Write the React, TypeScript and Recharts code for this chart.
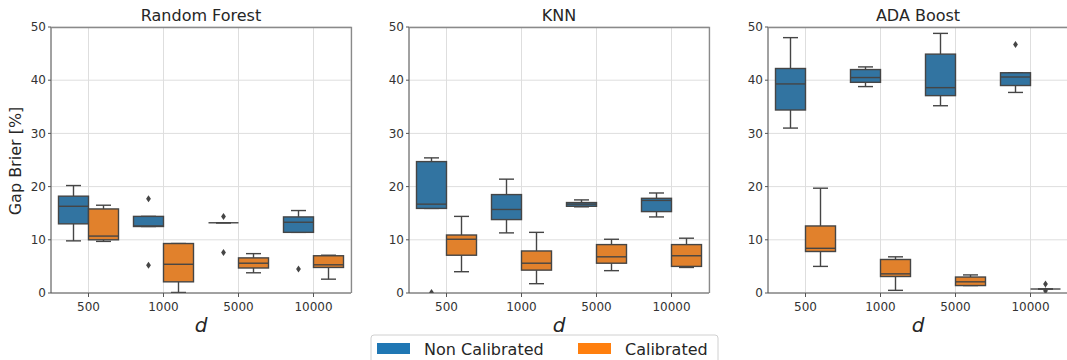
import React from 'react';
import { BarChart, Bar, XAxis, YAxis, CartesianGrid } from 'recharts';

// ---------- data ----------
const categories = ['500', '1000', '5000', '10000'];
const yTicks = [0, 10, 20, 30, 40, 50];
const seriesNames = ['Non Calibrated', 'Calibrated'];
const panelTitles = ['Random Forest', 'KNN', 'ADA Boost'];

// box stats per category: [lower whisker, Q1, median, Q3, upper whisker]
const rfNonCal = [
  [9.8, 13.0, 16.3, 18.2, 20.2],
  [12.5, 12.5, 12.6, 14.4, 14.4],
  [13.2, 13.2, 13.2, 13.2, 13.2],
  [11.4, 11.4, 13.3, 14.3, 15.5],
];
const rfNonCalOut = [[], [17.7, 5.2], [14.4, 7.6], [4.5]];
const rfCal = [
  [9.7, 10.0, 10.7, 15.8, 16.5],
  [0.1, 2.1, 5.4, 9.3, 9.3],
  [3.8, 4.7, 5.6, 6.6, 7.4],
  [2.6, 4.8, 5.3, 7.0, 7.1],
];
const rfCalOut = [[], [], [], []];

const knnNonCal = [
  [15.9, 15.9, 16.7, 24.7, 25.4],
  [11.3, 13.8, 15.7, 18.5, 21.4],
  [16.2, 16.3, 16.7, 17.0, 17.5],
  [14.3, 15.3, 17.4, 17.8, 18.8],
];
const knnNonCalOut = [[0.1], [], [], []];
const knnCal = [
  [4.0, 7.1, 10.1, 10.9, 14.4],
  [1.75, 4.3, 5.6, 7.9, 11.4],
  [4.2, 5.6, 6.8, 9.1, 10.1],
  [4.8, 5.0, 7.0, 9.1, 10.3],
];
const knnCalOut = [[], [], [], []];

const adaNonCal = [
  [31.0, 34.4, 39.3, 42.2, 48.0],
  [38.8, 39.6, 40.5, 42.0, 42.5],
  [35.2, 37.1, 38.6, 44.9, 48.8],
  [37.7, 39.0, 40.6, 41.4, 41.4],
];
const adaNonCalOut = [[], [], [], [46.7]];
const adaCal = [
  [5.0, 7.8, 8.4, 12.6, 19.7],
  [0.5, 3.1, 3.6, 6.3, 6.8],
  [1.4, 1.4, 2.1, 3.0, 3.4],
  [0.75, 0.75, 0.75, 0.75, 0.75],
];
const adaCalOut = [[], [], [], [1.7, 0.4]];

// ---------- styling ----------
const COLORS = { nc: '#3274a1', cal: '#e1812c' };
const LEGEND_COLORS = ['#1f77b4', '#ff7f0e'];
const LINE = '#454545';
const FONT = "'DejaVu Sans', sans-serif";

type Row = { cat: string; nc: number[]; ncOut: number[]; cal: number[]; calOut: number[] };

function buildData(nc: number[][], ncOut: number[][], cal: number[][], calOut: number[][]): Row[] {
  return categories.map((cat, i) => ({ cat, nc: nc[i], ncOut: ncOut[i], cal: cal[i], calOut: calOut[i] }));
}

const topOf = (stats: number[], outs: number[]) => Math.max(...stats, ...outs);

const BoxShape = (props: any) => {
  const { x, y, width, height, payload, seriesKey } = props;
  const stats: number[] = payload[seriesKey];
  const outs: number[] = payload[seriesKey + 'Out'];
  const top = topOf(stats, outs);
  // bar spans value 0 .. top, so map values linearly inside it (library scale)
  const py = (v: number) => y + (height * (top - v)) / top;
  const [lo, q1, med, q3, hi] = stats;
  const cx = x + width / 2;
  const cap = width / 4;
  return (
    <g>
      <line x1={cx} x2={cx} y1={py(hi)} y2={py(q3)} stroke={LINE} strokeWidth={1.4} />
      <line x1={cx} x2={cx} y1={py(q1)} y2={py(lo)} stroke={LINE} strokeWidth={1.4} />
      <line x1={cx - cap} x2={cx + cap} y1={py(hi)} y2={py(hi)} stroke={LINE} strokeWidth={1.4} />
      <line x1={cx - cap} x2={cx + cap} y1={py(lo)} y2={py(lo)} stroke={LINE} strokeWidth={1.4} />
      <rect
        x={x}
        y={py(q3)}
        width={width}
        height={Math.max(0, py(q1) - py(q3))}
        fill={COLORS[seriesKey as 'nc' | 'cal']}
        stroke={LINE}
        strokeWidth={1.4}
      />
      <line x1={x} x2={x + width} y1={py(med)} y2={py(med)} stroke={LINE} strokeWidth={1.4} />
      {outs.map((o, i) => {
        const oy = py(o);
        return (
          <path
            key={i}
            d={`M${cx},${oy - 3.5} L${cx + 2.4},${oy} L${cx},${oy + 3.5} L${cx - 2.4},${oy} Z`}
            fill={LINE}
          />
        );
      })}
    </g>
  );
};

type PanelProps = { data: Row[]; left: number; yAxisWidth: number; width: number };

function Panel({ data, left, yAxisWidth, width }: PanelProps) {
  const plotW = 300;
  return (
    <div style={{ position: 'absolute', left, top: 0 }}>
      <BarChart
        width={width}
        height={340}
        data={data}
        margin={{ top: 27, right: width - yAxisWidth - plotW, bottom: 17, left: 0 }}
        barCategoryGap="10%"
        barGap={0}
      >
        <CartesianGrid stroke="#dedede" strokeWidth={1} />
        <XAxis
          dataKey="cat"
          height={30}
          tickSize={4}
          tickMargin={5}
          stroke="#555"
          tick={{ fontSize: 12, fill: '#333' }}
          interval={0}
        />
        <YAxis
          domain={[0, 50]}
          ticks={yTicks}
          width={yAxisWidth}
          tickSize={3}
          tickMargin={2}
          stroke="#555"
          tick={{ fontSize: 12, fill: '#333' }}
          allowDataOverflow
        />
        <Bar
          name={seriesNames[0]}
          dataKey={(d: Row) => [0, topOf(d.nc, d.ncOut)]}
          fill={COLORS.nc}
          isAnimationActive={false}
          shape={(p: any) => <BoxShape {...p} seriesKey="nc" />}
        />
        <Bar
          name={seriesNames[1]}
          dataKey={(d: Row) => [0, topOf(d.cal, d.calOut)]}
          fill={COLORS.cal}
          isAnimationActive={false}
          shape={(p: any) => <BoxShape {...p} seriesKey="cal" />}
        />
      </BarChart>
    </div>
  );
}

const panels = [
  { data: buildData(rfNonCal, rfNonCalOut, rfCal, rfCalOut), left: 0, yAxisWidth: 51, width: 360, cx: 201 },
  { data: buildData(knnNonCal, knnNonCalOut, knnCal, knnCalOut), left: 355, yAxisWidth: 54, width: 360, cx: 559 },
  { data: buildData(adaNonCal, adaNonCalOut, adaCal, adaCalOut), left: 705, yAxisWidth: 63, width: 370, cx: 918 },
];

export default function App() {
  return (
    <div
      style={{
        position: 'absolute',
        left: 0,
        top: 0,
        width: 1067,
        height: 360,
        overflow: 'hidden',
        background: '#fff',
        fontFamily: FONT,
      }}
    >
      {panels.map((p, i) => (
        <Panel key={i} data={p.data} left={p.left} yAxisWidth={p.yAxisWidth} width={p.width} />
      ))}
      <svg
        width={1067}
        height={360}
        style={{ position: 'absolute', left: 0, top: 0, pointerEvents: 'none', fontFamily: FONT }}
      >
        {panels.map((p, i) => {
          const l = p.left + p.yAxisWidth;
          return (
            <g key={i}>
              <path d={`M${l},27.5 H${l + 300.5} V293`} fill="none" stroke="#8a8a8a" strokeWidth={1.3} />
              <text x={p.cx} y={21} textAnchor="middle" fontSize={16} fill="#262626">
                {panelTitles[i]}
              </text>
              <text x={p.cx} y={332} textAnchor="middle" fontSize={20} fontStyle="italic" fill="#262626">
                d
              </text>
            </g>
          );
        })}
        <text transform="translate(21,161) rotate(-90)" textAnchor="middle" fontSize={16} fill="#262626">
          Gap Brier [%]
        </text>
        <rect x={371} y={335} width={347} height={40} rx={3} fill="#fff" stroke="#d0d0d0" strokeWidth={1} />
        <rect x={377} y={343} width={33} height={11} fill={LEGEND_COLORS[0]} />
        <text x={424} y={355} fontSize={16} fill="#262626">
          {seriesNames[0]}
        </text>
        <rect x={578} y={343} width={33} height={11} fill={LEGEND_COLORS[1]} />
        <text x={625} y={355} fontSize={16} fill="#262626">
          {seriesNames[1]}
        </text>
      </svg>
    </div>
  );
}
